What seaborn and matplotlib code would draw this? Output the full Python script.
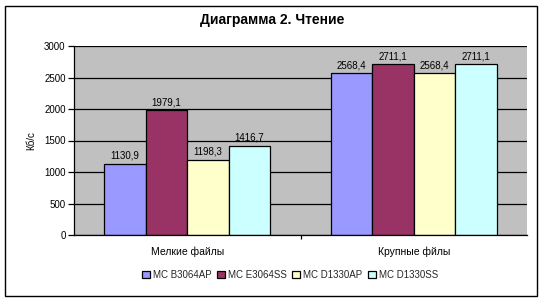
import matplotlib
matplotlib.use("Agg")
import matplotlib.pyplot as plt
import seaborn as sns
import pandas as pd
from matplotlib.patches import Rectangle
from matplotlib.ticker import FixedLocator

categories = ["Мелкие файлы", "Крупные фйлы"]
series = ["MC B3064AP", "MC E3064SS", "MC D1330AP", "MC D1330SS"]
values_small = [1130.9, 1979.1, 1198.3, 1416.7]
values_large = [2568.4, 2711.1, 2568.4, 2711.1]
colors = ["#9999FF", "#993366", "#FFFFCC", "#CCFFFF"]
title = "Диаграмма 2. Чтение"
ylabel = "Кб/с"

rows = []
for s, a, b in zip(series, values_small, values_large):
    rows.append({"cat": categories[0], "series": s, "val": a})
    rows.append({"cat": categories[1], "series": s, "val": b})
df = pd.DataFrame(rows)

sns.set_theme(style="white")
plt.rcParams['font.family'] = ['Liberation Sans', 'DejaVu Sans']

fig = plt.figure(figsize=(5.43, 3.01), dpi=100)
ax = fig.add_axes([74/543, 1-235/301, 453/543, 189/301])
ax.set_facecolor("#C0C0C0")

sns.barplot(data=df, x="cat", y="val", hue="series", order=categories,
            hue_order=series, palette=colors, edgecolor="black", linewidth=0.9,
            width=0.733, gap=0, ax=ax, legend=True, saturation=1, errorbar=None)

for cont in ax.containers:
    ax.bar_label(cont, labels=[f"{v:.1f}".replace(".", ",") for v in cont.datavalues],
                 fontsize=7, padding=2, color="black")

ax.set_ylim(0, 3000)
ax.set_xlim(-0.5, 1.5)
ax.set_yticks(range(0, 3001, 500))
ax.yaxis.grid(True, color="black", linewidth=0.9)
ax.set_axisbelow(True)
ax.tick_params(axis="y", labelsize=7, length=4, width=0.9, direction="out", left=True, pad=2, colors="black")
ax.tick_params(axis="x", labelsize=7.5, length=0, pad=8, colors="black")
ax.xaxis.set_minor_locator(FixedLocator([0.5]))
ax.tick_params(axis="x", which="minor", length=3, width=0.9, direction="out", bottom=True, color="black")
for side in ["top", "right"]:
    ax.spines[side].set_visible(False)
ax.spines["left"].set_color("black")
ax.spines["bottom"].set_color("black")
ax.spines["left"].set_linewidth(0.9)
ax.spines["bottom"].set_linewidth(0.9)
ax.set_xlabel("")
ax.set_ylabel(ylabel, fontsize=7, labelpad=6, color="black")

handles, labels = ax.get_legend_handles_labels()
ax.get_legend().remove()
fig.legend(handles, labels, loc="center", bbox_to_anchor=(290/543, 1-275/301),
           ncol=4, frameon=False, fontsize=7, handlelength=0.8, handleheight=0.8,
           handletextpad=0.3, columnspacing=0.6)

fig.text(272/543, 1-20/301, title, ha="center", va="center", fontsize=10,
         fontweight="bold", color="black")

fig.patches.append(Rectangle((5/543, 5/301), 532/543, 290/301, transform=fig.transFigure,
                             fill=False, edgecolor="black", linewidth=1))

fig.savefig("out.png", dpi=100)
